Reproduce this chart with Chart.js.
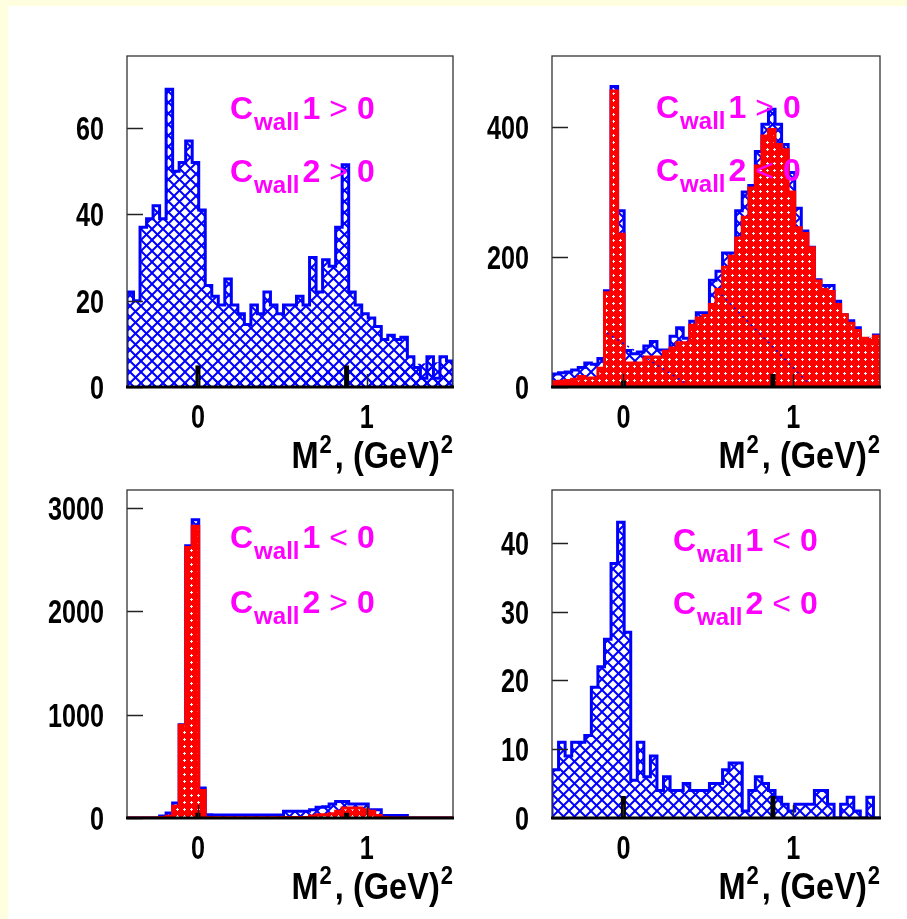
<!DOCTYPE html>
<html>
<head>
<meta charset="utf-8">
<script src="https://cdn.jsdelivr.net/npm/chart.js@4.4.0/dist/chart.umd.min.js"></script>
<style>
  html, body { margin: 0; padding: 0; }
  body { width: 907px; height: 919px; background: #ffffe0; position: relative; overflow: hidden; }
  #sheet { position: absolute; left: 8px; top: 6px; right: 0; bottom: 0; background: #fff; }
  canvas { position: absolute; }
</style>
</head>
<body>
<div id="sheet"></div>
<canvas id="tl" width="450" height="460" style="left:20px;top:20px"></canvas>
<canvas id="tr" width="430" height="460" style="left:470px;top:20px"></canvas>
<canvas id="bl" width="450" height="449" style="left:20px;top:470px"></canvas>
<canvas id="br" width="430" height="449" style="left:470px;top:470px"></canvas>
<script>
// histogram range on M^2 (GeV^2), 50 bins
const xLow = -0.42;
const xHigh = 1.51;
const xTicks = [0, 1];
const markX = [0, 0.88];

// Cwall1 > 0, Cwall2 > 0
const tlBlue = [22, 20, 37, 39, 42, 39, 69, 50, 52, 57, 52, 41, 23.5, 21, 19, 25, 19, 17, 14.5, 19, 17, 22, 19, 17, 19,
                19, 21, 19, 30, 22, 29.5, 28, 37, 51.5, 22, 19, 17, 16, 14, 11, 12, 11, 11.5, 7, 4.5, 2, 7, 2, 7, 6];
const tlYTicks = [0, 20, 40, 60];
const tlYMax = 76.7;
const tlMark = [5, 5];

// Cwall1 > 0, Cwall2 < 0
const trBlue = [20, 22, 23, 26, 30, 37, 35, 44, 148, 462, 271, 56, 51, 54, 63, 70, 57, 57, 78, 91, 75, 101, 114, 114, 164,
                178, 206, 206, 271, 300, 310, 362, 404, 427, 404, 373, 330, 275, 240, 215, 165, 156, 156, 132, 111, 102, 91, 70, 60, 80];
const trRed = [8, 9, 10, 12, 16, 14, 14, 29, 145, 455, 235, 37, 37, 37, 46, 46, 46, 55, 60, 68, 68, 95, 106, 110, 127,
               150, 184, 201, 229, 261, 306, 340, 386, 396, 373, 365, 300, 245, 236, 214, 163, 150, 147, 127, 111, 98, 87, 75, 66, 78];
const trYTicks = [0, 200, 400];
const trYMax = 509;
const trMark = [10, 20];
const trFitA = [{x: -0.096, y: 83}, {x: 0.359, y: 7}];
const trFitB = [{x: 0.577, y: 142}, {x: 1.085, y: 7}];

// Cwall1 < 0, Cwall2 > 0
const blBlue = [0, 0, 0, 0, 0, 20, 48, 145, 903, 2635, 2887, 290, 32, 30, 30, 30, 30, 30, 30, 30, 30, 30, 30, 30, 65,
                65, 65, 65, 80, 103, 110, 135, 160, 160, 135, 135, 135, 80, 80, 23, 23, 23, 23, 0, 0, 0, 0, 0, 0, 0];
const blRed = [0, 0, 0, 0, 0, 5, 16, 113, 897, 2619, 2823, 265, 5, 3, 3, 3, 3, 3, 3, 3, 3, 3, 3, 3, 5,
               5, 5, 5, 20, 32, 32, 40, 65, 97, 97, 97, 80, 65, 23, 5, 0, 0, 0, 0, 0, 0, 0, 0, 0, 0];
const blYTicks = [0, 1000, 2000, 3000];
const blYMax = 3175;
const blMark = [50, 50];

// Cwall1 < 0, Cwall2 < 0
const brBlue = [7, 11, 9, 11, 11, 12, 19, 22, 26, 37, 43, 27, 5.5, 11, 6, 9, 4, 6, 4, 4, 5, 4, 4, 4, 5,
                5, 7, 8, 8, 1, 4, 6, 5, 4, 3, 2, 1, 2, 2, 2, 4, 4, 2, 0, 2, 3, 1, 0, 3, 0];
const brYTicks = [0, 10, 20, 30, 40];
const brYMax = 47.7;
const brMark = [3.2, 3.2];

const textFont = "'Liberation Sans', Arial, sans-serif";

// outline of a histogram as a polyline (left/right edge of every bin)
function histPoints(vals) {
  const w = (xHigh - xLow) / vals.length;
  const pts = [{x: xLow, y: 0}];
  vals.forEach((v, i) => {
    pts.push({x: xLow + i * w, y: v}, {x: xLow + (i + 1) * w, y: v});
  });
  pts.push({x: xHigh, y: 0});
  return pts;
}

function hatch(ctx) {
  const c = document.createElement('canvas');
  c.width = c.height = 11;
  const g = c.getContext('2d');
  g.strokeStyle = '#0000ff';
  g.lineWidth = 2;
  g.beginPath();
  g.moveTo(-1, -1); g.lineTo(12, 12);
  g.moveTo(12, -1); g.lineTo(-1, 12);
  g.stroke();
  return ctx.createPattern(c, 'repeat');
}

function dots(ctx) {
  const c = document.createElement('canvas');
  c.width = c.height = 7;
  const g = c.getContext('2d');
  g.fillStyle = '#ff0000';
  g.fillRect(0, 0, 7, 7);
  g.fillStyle = '#ffffff';
  g.fillRect(3, 2, 1, 3);
  g.fillRect(2, 3, 3, 1);
  return ctx.createPattern(c, 'repeat');
}

// text squeezed horizontally, like the labels of the original figure
function narrow(ctx, text, x, y, align, sx) {
  ctx.save();
  ctx.translate(x, y);
  ctx.scale(sx, 1);
  ctx.textAlign = align;
  ctx.fillText(text, 0, 0);
  ctx.restore();
}

// frame, inward ticks, tick labels, axis title and the magenta cut labels (ROOT look)
const rootDeco = {
  id: 'rootDeco',
  afterDatasetsDraw(chart, args, o) {
    const {ctx, chartArea: a, scales: {x, y}} = chart;
    ctx.save();
    ctx.strokeStyle = '#222';
    ctx.lineWidth = 1.5;
    y.ticks.forEach(t => {
      const py = Math.round(y.getPixelForValue(t.value)) + 0.5;
      ctx.beginPath(); ctx.moveTo(a.left, py); ctx.lineTo(a.left + 16, py); ctx.stroke();
    });
    x.ticks.forEach(t => {
      const px = Math.round(x.getPixelForValue(t.value)) + 0.5;
      ctx.beginPath(); ctx.moveTo(px, a.bottom); ctx.lineTo(px, a.bottom - 13); ctx.stroke();
    });
    ctx.strokeStyle = '#333';
    ctx.lineWidth = 1.3;
    ctx.strokeRect(a.left, a.top, a.right - a.left, a.bottom - a.top);
    ctx.strokeStyle = '#000';
    ctx.lineWidth = 3;
    ctx.beginPath(); ctx.moveTo(a.left - 1, a.bottom); ctx.lineTo(a.right + 1, a.bottom); ctx.stroke();

    // tick labels from the scales
    ctx.fillStyle = '#000';
    ctx.textBaseline = 'alphabetic';
    ctx.font = 'bold 34px ' + textFont;
    y.ticks.forEach(t => {
      narrow(ctx, t.label ?? String(t.value), a.left - 23, y.getPixelForValue(t.value) + 12, 'right', 0.74);
    });
    x.ticks.forEach(t => {
      narrow(ctx, t.label ?? String(t.value), x.getPixelForValue(t.value), a.bottom + 41, 'center', 0.74);
    });

    // axis title M^2, (GeV)^2 right aligned
    const tb = a.bottom + 81, sx = 0.88;
    const parts = [['M', 0, 1], ['2', 1, 3], [', ', 0, 0], ['(GeV)', 0, 1], ['2', 1, 0]];
    let total = 0;
    parts.forEach(p => {
      ctx.font = (p[1] ? 'bold 25px ' : 'bold 37px ') + textFont;
      total += ctx.measureText(p[0]).width * sx + p[2];
    });
    let tx = a.right - total;
    parts.forEach(p => {
      ctx.font = (p[1] ? 'bold 25px ' : 'bold 37px ') + textFont;
      narrow(ctx, p[0], tx, p[1] ? tb - 15 : tb, 'left', sx);
      tx += ctx.measureText(p[0]).width * sx + p[2];
    });

    // cut labels
    ctx.fillStyle = '#ff00ff';
    o.cuts.forEach((c, i) => {
      let cx = a.left + o.cutX;
      const base = a.top + o.cutY[i];
      ctx.font = 'bold 32px ' + textFont;
      ctx.fillText('C', cx, base); cx += ctx.measureText('C').width + 1;
      ctx.font = 'bold 24px ' + textFont;
      ctx.fillText('wall', cx, base + 11); cx += ctx.measureText('wall').width + 3;
      ctx.font = 'bold 32px ' + textFont;
      ctx.fillText(c[0], cx, base); cx += ctx.measureText(c[0]).width + 9;
      ctx.font = '32px ' + textFont;
      ctx.fillText(c[1], cx, base); cx += ctx.measureText(c[1]).width + 9;
      ctx.font = 'bold 32px ' + textFont;
      ctx.fillText(c[2], cx, base);
    });
    ctx.restore();
  }
};

function panel(id, p) {
  const canvas = document.getElementById(id);
  const ctx = canvas.getContext('2d');
  const datasets = [];
  datasets.push({
    data: histPoints(p.blue), borderColor: '#0000ff', borderWidth: 3, backgroundColor: hatch(ctx),
    fill: 'origin', pointRadius: 0, tension: 0, borderJoinStyle: 'miter', clip: 0, order: 3
  });
  if (p.red) {
    datasets.push({
      data: histPoints(p.red), borderColor: '#ff0000', borderWidth: 3, backgroundColor: dots(ctx),
      fill: 'origin', pointRadius: 0, tension: 0, borderJoinStyle: 'miter', clip: 0, order: 2
    });
  }
  (p.fits || []).forEach(f => datasets.push({
    data: f, borderColor: '#0000ff', borderWidth: 1.5, borderDash: [2, 4], fill: false,
    pointRadius: 0, clip: 0, order: 1
  }));
  markX.forEach((mx, i) => datasets.push({
    data: [{x: mx, y: 0}, {x: mx, y: p.mark[i]}], borderColor: '#000', borderWidth: 5,
    fill: false, pointRadius: 0, clip: 0, order: 0
  }));

  new Chart(ctx, {
    type: 'line',
    data: {datasets},
    options: {
      responsive: false,
      animation: false,
      events: [],
      layout: {padding: {left: 0, top: p.pad[0], right: p.pad[1], bottom: 0}},
      scales: {
        x: {
          type: 'linear', min: xLow, max: xHigh,
          grid: {display: false, drawTicks: false}, border: {display: false},
          afterFit: s => { s.height = p.xh; },
          afterBuildTicks: s => { s.ticks = xTicks.map(v => ({value: v})); },
          ticks: {display: false, callback: v => String(v)}
        },
        y: {
          type: 'linear', min: 0, max: p.yMax,
          grid: {display: false, drawTicks: false}, border: {display: false},
          afterFit: s => { s.width = p.yw; },
          afterBuildTicks: s => { s.ticks = p.yTicks.map(v => ({value: v})); },
          ticks: {display: false, callback: v => String(v)}
        }
      },
      plugins: {
        legend: {display: false},
        tooltip: {enabled: false},
        rootDeco: {cuts: p.cuts, cutX: p.cutX, cutY: p.cutY}
      }
    },
    plugins: [rootDeco]
  });
}

panel('tl', {blue: tlBlue, yMax: tlYMax, yTicks: tlYTicks, mark: tlMark, pad: [36, 17], yw: 107, xh: 93,
  cuts: [['1', '>', '0'], ['2', '>', '0']], cutX: 103, cutY: [63, 126]});
panel('tr', {blue: trBlue, red: trRed, fits: [trFitA, trFitB], yMax: trYMax, yTicks: trYTicks, mark: trMark,
  pad: [36, 20], yw: 82, xh: 93, cuts: [['1', '>', '0'], ['2', '<', '0']], cutX: 104, cutY: [62, 125]});
panel('bl', {blue: blBlue, red: blRed, yMax: blYMax, yTicks: blYTicks, mark: blMark, pad: [20, 17], yw: 107, xh: 101,
  cuts: [['1', '<', '0'], ['2', '>', '0']], cutX: 103, cutY: [58, 123]});
panel('br', {blue: brBlue, yMax: brYMax, yTicks: brYTicks, mark: brMark, pad: [20, 20], yw: 82, xh: 101,
  cuts: [['1', '<', '0'], ['2', '<', '0']], cutX: 121, cutY: [61, 124]});
</script>
</body>
</html>
